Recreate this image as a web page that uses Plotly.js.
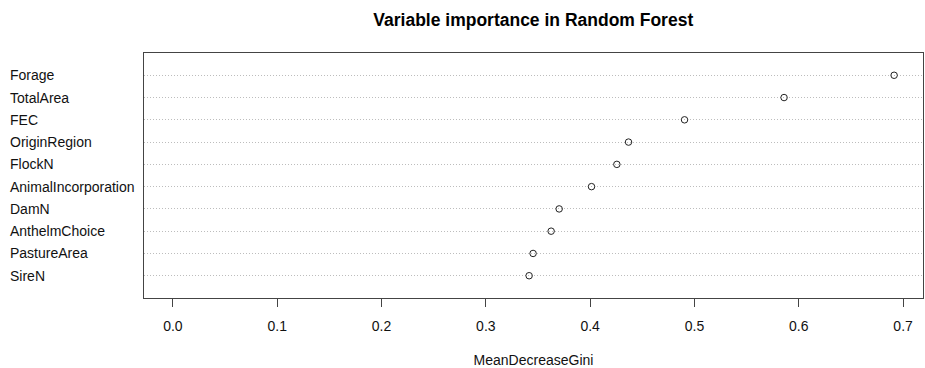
<!DOCTYPE html>
<html>
<head>
<meta charset="utf-8">
<script src="https://cdn.plot.ly/plotly-3.0.1.min.js"></script>
<style>
html,body{margin:0;padding:0;background:#fff;}
#chart{width:925px;height:368px;}
</style>
</head>
<body>
<div id="chart"></div>
<script>
// Variables ordered from bottom to top (as in R dotchart)
const variables = ["SireN","PastureArea","AnthelmChoice","DamN","AnimalIncorporation","FlockN","OriginRegion","FEC","TotalArea","Forage"];
const meanDecreaseGini = [0.3415,0.3453,0.3626,0.3703,0.4013,0.4256,0.4368,0.4905,0.5859,0.6914];
const xTickVals = [0,0.1,0.2,0.3,0.4,0.5,0.6,0.7];
const xTickText = ["0.0","0.1","0.2","0.3","0.4","0.5","0.6","0.7"];
const titleText = "Variable importance in Random Forest";
const xTitle = "MeanDecreaseGini";

const font = "Liberation Sans, Arial, sans-serif";

const trace = {
  type: "scatter",
  mode: "markers",
  x: meanDecreaseGini,
  y: variables,
  marker: {symbol: "circle-open", size: 6.5, color: "#222", line: {width: 1, color: "#222"}},
  hoverinfo: "x+y",
  showlegend: false
};

const annotations = variables.map(v => ({
  xref: "paper", yref: "y", x: -0.175, y: v,
  text: v, showarrow: false, xanchor: "left", yanchor: "middle",
  font: {family: font, size: 14, color: "#111"}
}));

const layout = {
  width: 925, height: 368,
  margin: {l: 144, r: 2, t: 53, b: 70, pad: 0},
  paper_bgcolor: "#fff", plot_bgcolor: "#fff",
  font: {family: font, size: 14, color: "#111"},
  title: {text: "<b>" + titleText + "</b>", x: 0.5765, xanchor: "center", y: 0.945, yanchor: "middle",
          font: {family: font, size: 17.5, color: "#000"}},
  xaxis: {
    range: [-0.0277, 0.7191],
    tickvals: xTickVals, ticktext: xTickText,
    ticks: "outside", ticklen: 8, tickcolor: "#444", tickwidth: 1,
    ticklabelstandoff: 7,
    showgrid: false, zeroline: false,
    showline: true, mirror: true, linecolor: "#444", linewidth: 1,
    tickfont: {family: font, size: 14, color: "#111"},
    title: {text: xTitle, standoff: 23, font: {family: font, size: 14, color: "#111"}}
  },
  yaxis: {
    type: "category", categoryorder: "array", categoryarray: variables,
    range: [-1, 10],
    showticklabels: false, ticks: "",
    showgrid: true, gridcolor: "#bdbdbd", griddash: "1px,2px", gridwidth: 1,
    zeroline: false,
    showline: true, mirror: true, linecolor: "#444", linewidth: 1
  },
  annotations: annotations
};

Plotly.newPlot("chart", [trace], layout, {displayModeBar: false, staticPlot: true});
</script>
</body>
</html>
